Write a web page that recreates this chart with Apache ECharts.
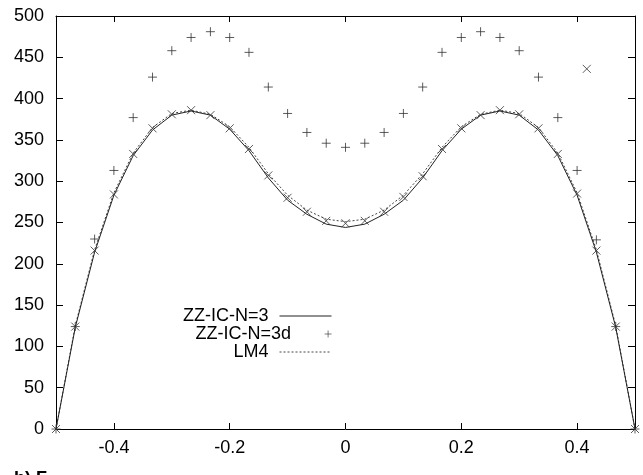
<!DOCTYPE html>
<html><head><meta charset="utf-8">
<script src="https://cdn.jsdelivr.net/npm/echarts@6/dist/echarts.min.js"></script>
<style>html,body{margin:0;padding:0;background:#fff}#c{width:643px;height:475px}</style>
</head><body><div id="c"></div>
<script>
var xs = [-0.5,-0.4667,-0.4333,-0.4,-0.3667,-0.3333,-0.3,-0.2667,-0.2333,-0.2,-0.1667,-0.1333,-0.1,-0.0667,-0.0333,0,0.0333,0.0667,0.1,0.1333,0.1667,0.2,0.2333,0.2667,0.3,0.3333,0.3667,0.4,0.4333,0.4667,0.5];
var zzN3 = [0,123,214,283,331,362,380,385,380,363,337,304,277,260,248,244,248,260,277,304,337,363,380,385,380,362,331,283,214,123,0];
var zzN3d = [0,124,230,313,377,426,458,474,481,474,456,414,382,359,346,341,346,359,382,414,456,474,481,474,458,426,377,313,229,124,0];
var lm4 = [0,125,217,286,334,365,382,386,381,366,341,309,283,265,254,251,254,265,283,309,341,366,381,386,382,365,334,286,217,125,0];
var crossVals = [0,124,216,284,333,364,381,386,380,364,339,307,280,263,252,249,252,263,281,306,339,364,380,386,381,364,333,285,216,124,0];
var extraCrossX = [0.4167];
var extraCrossY = [436];
var xTicks = [-0.4,-0.2,0,0.2,0.4];

function pairs(xv, yv){ return xv.map(function(x,i){ return [x, yv[i]]; }); }
var PLUS = 'path://M0,5 L10,5 M5,0 L5,10';
var CROSS = 'path://M0,0 L10,10 M0,10 L10,0';
var FONT = 'Liberation Sans';

var chart = echarts.init(document.getElementById('c'), null, {renderer:'canvas'});
var axisLine = {show:true, onZero:false, lineStyle:{color:'#000', width:1}};
function legendFor(name, top, h, hideSymbol){
  var l = {
    data:[name], orient:'vertical', align:'right', right:306, top:top,
    itemWidth:52, itemHeight:h, itemGap:0, selectedMode:false,
    textStyle:{fontFamily:FONT, fontSize:18, color:'#000', padding:[0,6,0,0]}
  };
  if (hideSymbol) { l.itemStyle = {opacity:0}; l.lineStyle = {width:1}; }
  else { l.itemStyle = {borderWidth:0.8}; }
  return l;
}
chart.setOption({
  animation:false,
  backgroundColor:'#fff',
  grid:{left:56, right:8, top:16, bottom:46, containLabel:false},
  legend:[legendFor('ZZ-IC-N=3', 302, 12, true), legendFor('ZZ-IC-N=3d', 320, 7, false), legendFor('LM4', 338, 12, true)],
  graphic:[{type:'text', left:14, top:470, style:{text:'b) F', font:'bold 18px "Liberation Sans"', fill:'#000'}}],
  xAxis:[
    {type:'value', min:-0.5, max:0.5, position:'bottom', axisLine:axisLine, splitLine:{show:false},
     axisTick:{inside:true, length:6, lineStyle:{color:'#000'}, customValues:xTicks},
     axisLabel:{customValues:xTicks, fontFamily:FONT, fontSize:18, color:'#000', margin:10,
       formatter:function(v){ return String(Math.round(v*10)/10); }}},
    {type:'value', min:-0.5, max:0.5, position:'top', axisLine:axisLine, splitLine:{show:false},
     axisTick:{inside:true, length:6, lineStyle:{color:'#000'}, customValues:xTicks},
     axisLabel:{show:false}}
  ],
  yAxis:[
    {type:'value', min:0, max:500, interval:50, position:'left', axisLine:axisLine, splitLine:{show:false},
     axisTick:{inside:true, length:7, lineStyle:{color:'#000'}},
     axisLabel:{fontFamily:FONT, fontSize:18, color:'#000', margin:12}},
    {type:'value', min:0, max:500, interval:50, position:'right', axisLine:axisLine, splitLine:{show:false},
     axisTick:{inside:true, length:7, lineStyle:{color:'#000'}},
     axisLabel:{show:false}}
  ],
  series:[
    {name:'ZZ-IC-N=3', type:'line', data:pairs(xs, zzN3), symbol:'none', lineStyle:{color:'#222', width:1}, itemStyle:{color:'#222'}, z:3},
    {name:'ZZ-IC-N=3d', type:'scatter', data:pairs(xs, zzN3d), symbol:PLUS, symbolSize:9,
     itemStyle:{color:'transparent', borderColor:'#333', borderWidth:1}, z:4},
    {name:'LM4', type:'line', data:pairs(xs, lm4), symbol:'none', lineStyle:{color:'#444', width:1, type:[2,2]}, itemStyle:{color:'#444'}, z:2},
    {name:'cross', type:'scatter', data:pairs(xs, crossVals).concat(pairs(extraCrossX, extraCrossY)), symbol:CROSS, symbolSize:8,
     itemStyle:{color:'transparent', borderColor:'#333', borderWidth:1}, z:5}
  ]
});
</script></body></html>
